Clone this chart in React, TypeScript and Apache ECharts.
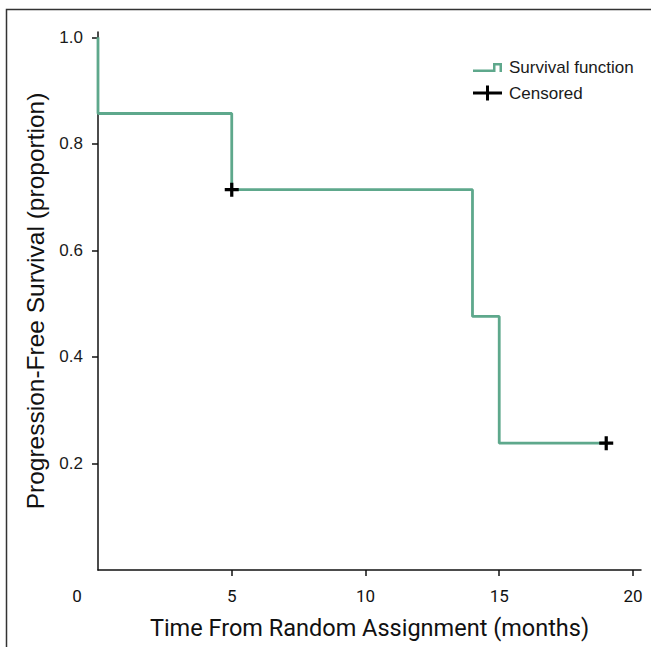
import React, { useEffect, useRef } from "react";
import * as echarts from "echarts";

// Kaplan-Meier step points (time in months, survival proportion)
const stepTimes = [0, 0, 5, 14, 15, 19];
const stepSurvival = [1.0, 0.857, 0.714, 0.476, 0.238, 0.238];
// Censored observations
const censorTimes = [5, 19];
const censorSurvival = [0.714, 0.238];
// Tick values
const xTickLabels = [0, 5, 10, 15, 20];
const xTickMarks = [5, 10, 15, 20];
const yTicks = [0.2, 0.4, 0.6, 0.8, 1.0];

const seriesNames = ["Survival function", "Censored"];
const xTitle = "Time From Random Assignment (months)";
const yTitle = "Progression-Free Survival (proportion)";

const GREEN = "#5ea88c";
const STEP_ICON =
  "path://M0,6.5 L20,6.5 L20,0 L29,0 L29,9 L26.5,9 L26.5,2.5 L22.5,2.5 L22.5,9 L0,9 Z";
const PLUS_ICON =
  "path://M0,6 L13,6 L13,0 L16,0 L16,6 L29,6 L29,9 L16,9 L16,15 L13,15 L13,9 L0,9 Z";
const PLUS_MARK =
  "path://M0,5 L5,5 L5,0 L8,0 L8,5 L13,5 L13,8 L8,8 L8,13 L5,13 L5,8 L0,8 Z";

export default function App() {
  const ref = useRef<HTMLDivElement>(null);
  useEffect(() => {
    if (!ref.current) return;
    const chart = echarts.init(ref.current, null, { renderer: "svg" });
    const stepData = stepTimes.map((t, i) => [t, stepSurvival[i]]);
    const censorData = censorTimes.map((t, i) => [t, censorSurvival[i]]);
    chart.setOption({
      animation: false,
      backgroundColor: "#ffffff",
      grid: {
        left: 98,
        right: 10,
        top: 32,
        bottom: 77,
        containLabel: false,
        outerBoundsMode: "none",
      },
      legend: [
        {
          data: [{ name: seriesNames[0], icon: STEP_ICON }],
          left: 473,
          top: 59,
          padding: 0,
          itemWidth: 29,
          itemHeight: 9,
          textStyle: {
            fontFamily: "'Liberation Sans', Arial, sans-serif",
            fontSize: 17,
            color: "#1a1a1a",
            padding: [0, 0, 0, 2],
          },
        },
        {
          data: [{ name: seriesNames[1], icon: PLUS_ICON }],
          left: 473,
          top: 84.5,
          padding: 0,
          itemWidth: 29,
          itemHeight: 15,
          textStyle: {
            fontFamily: "'Liberation Sans', Arial, sans-serif",
            fontSize: 17,
            color: "#1a1a1a",
            padding: [0, 0, 0, 2],
          },
        },
      ],
      xAxis: {
        type: "value",
        min: 0,
        max: 20.3,
        splitLine: { show: false },
        axisLine: { show: true, lineStyle: { color: "#111", width: 1.5 } },
        axisTick: {
          show: true,
          length: 6,
          customValues: xTickMarks,
          lineStyle: { color: "#111", width: 1.5 },
        },
        axisLabel: {
          customValues: xTickLabels,
          margin: 17,
          fontFamily: "Roboto, 'Liberation Sans', sans-serif",
          fontSize: 17,
          color: "#111",
          formatter: (v: number) => (v === 0 ? "{z|0}" : String(v)),
          rich: {
            z: {
              fontFamily: "Roboto, 'Liberation Sans', sans-serif",
              fontSize: 17,
              color: "#111",
              padding: [0, 42, 0, 0],
            },
          },
        },
        name: xTitle,
        nameLocation: "middle",
        nameGap: 46,
        nameTextStyle: {
          fontFamily: "Roboto, 'Liberation Sans', sans-serif",
          fontSize: 23.5,
          color: "#111",
        },
      },
      yAxis: {
        type: "value",
        min: 0,
        max: 1.01,
        splitLine: { show: false },
        axisLine: { show: true, lineStyle: { color: "#111", width: 1.5 } },
        axisTick: {
          show: true,
          length: 6,
          customValues: yTicks,
          lineStyle: { color: "#111", width: 1.5 },
        },
        axisLabel: {
          customValues: yTicks,
          margin: 15,
          fontFamily: "'Liberation Sans', Arial, sans-serif",
          fontSize: 17,
          color: "#1a1a1a",
          formatter: (v: number) => v.toFixed(1),
        },
        name: yTitle,
        nameLocation: "middle",
        nameRotate: 90,
        nameGap: 50,
        nameTextStyle: {
          fontFamily: "'Liberation Sans', Arial, sans-serif",
          fontSize: 24.5,
          color: "#111",
        },
      },
      series: [
        {
          name: seriesNames[0],
          type: "line",
          step: "end",
          data: stepData,
          showSymbol: false,
          symbol: "none",
          itemStyle: { color: GREEN },
          lineStyle: { color: GREEN, width: 2.8 },
          z: 2,
        },
        {
          name: seriesNames[1],
          type: "scatter",
          data: censorData,
          symbol: PLUS_MARK,
          symbolSize: 14,
          itemStyle: { color: "#000", opacity: 1 },
          z: 3,
        },
      ],
      graphic: [
        {
          type: "rect",
          shape: { x: 6.5, y: 9.5, width: 720, height: 720 },
          style: { fill: "none", stroke: "#333", lineWidth: 1.5 },
          silent: true,
          z: 10,
        },
      ],
    });
    return () => chart.dispose();
  }, []);
  return (
    <div
      ref={ref}
      style={{ position: "fixed", left: 0, top: 0, width: 651, height: 647 }}
    />
  );
}
